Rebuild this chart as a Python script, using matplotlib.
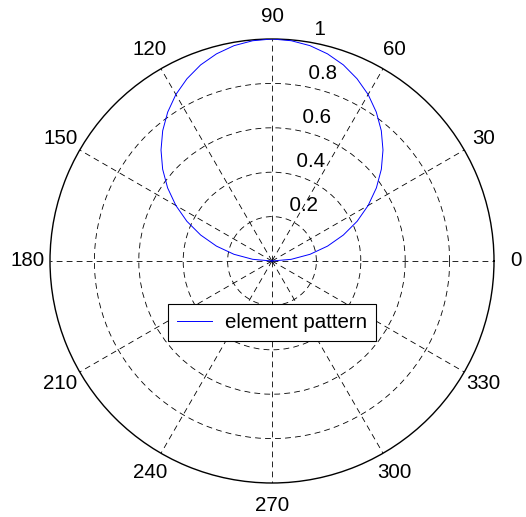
import matplotlib
matplotlib.use('Agg')
import matplotlib.pyplot as plt
import numpy as np

plt.rcParams['font.family'] = ['Liberation Sans', 'DejaVu Sans']

# element pattern, angle in degrees and normalised amplitude
theta_deg = [0, 5, 10, 15, 20, 25, 30, 35, 40, 45, 50, 55, 60, 65, 70, 75, 80, 85, 90,
             95, 100, 105, 110, 115, 120, 125, 130, 135, 140, 145, 150, 155, 160, 165, 170, 175, 180]
amplitude = [0.0, 0.087, 0.174, 0.259, 0.342, 0.423, 0.5, 0.574, 0.643, 0.707, 0.766, 0.819, 0.866,
             0.906, 0.94, 0.966, 0.985, 0.996, 1.0,
             0.996, 0.985, 0.966, 0.94, 0.906, 0.866, 0.819, 0.766, 0.707, 0.643, 0.574, 0.5,
             0.423, 0.342, 0.259, 0.174, 0.087, 0.0]

ring_values = [0.2, 0.4, 0.6, 0.8, 1.0]
ring_labels = ['0.2', '0.4', '0.6', '0.8', '1']
spoke_angles = [0, 30, 60, 90, 120, 150, 180, 210, 240, 270, 300, 330]

fs = 14.8
dash = (0, (7, 5))

fig = plt.figure(figsize=(5.26, 5.17), dpi=100)
ax = fig.add_axes([50/526, 34/517, 444/526, 444/517], projection='polar')

ax.plot(np.radians(theta_deg), amplitude, color='#0000ff', lw=0.7, label='element pattern', zorder=3)

ax.set_ylim(0, 1)
ax.set_rgrids(ring_values[:-1], labels=['']*4)
ax.set_thetagrids(spoke_angles, labels=['']*len(spoke_angles))
ax.grid(True, color='black', lw=0.6, linestyle=dash)
ax.spines['polar'].set_color('black')
ax.spines['polar'].set_linewidth(1.0)
ax.tick_params(length=0)

# angle labels just outside the rim
for a in spoke_angles:
    ax.text(np.radians(a), 1.1, str(a), ha='center', va='center', fontsize=fs, clip_on=False)

# ring labels along the 82 degree line
for v, lab in zip(ring_values, ring_labels):
    ax.text(np.radians(82), v + 0.01, '  ' + lab, ha='left', va='bottom', fontsize=fs, clip_on=False)

leg = ax.legend(loc='center', bbox_to_anchor=(0.5, 0.361), fontsize=fs, fancybox=False,
                edgecolor='black', framealpha=1, handlelength=1.7, handletextpad=0.6,
                borderpad=0.45, borderaxespad=0)
leg.get_frame().set_linewidth(0.8)

fig.savefig('out.png', dpi=100)
